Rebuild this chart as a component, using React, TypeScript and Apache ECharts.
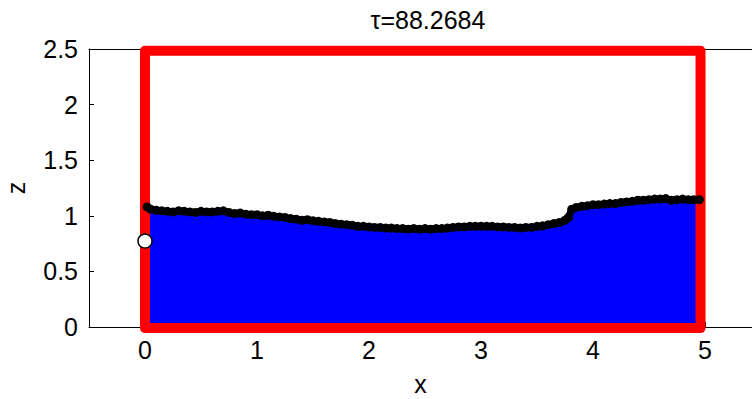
import React, { useEffect, useRef } from "react";
import * as echarts from "echarts";

const surfX = [0.02, 0.05, 0.1, 0.15, 0.2, 0.25, 0.3, 0.35, 0.4, 0.45, 0.5, 0.55, 0.6, 0.65, 0.7, 0.75, 0.8, 0.85, 0.9, 0.95, 1.0, 1.05, 1.1, 1.15, 1.2, 1.25, 1.3, 1.35, 1.4, 1.45, 1.5, 1.55, 1.6, 1.65, 1.7, 1.75, 1.8, 1.85, 1.9, 1.95, 2.0, 2.05, 2.1, 2.15, 2.2, 2.25, 2.3, 2.35, 2.4, 2.45, 2.5, 2.55, 2.6, 2.65, 2.7, 2.75, 2.8, 2.85, 2.9, 2.95, 3.0, 3.05, 3.1, 3.15, 3.2, 3.25, 3.3, 3.35, 3.4, 3.45, 3.5, 3.55, 3.6, 3.65, 3.7, 3.75, 3.78, 3.81, 3.85, 3.9, 3.95, 4.0, 4.05, 4.1, 4.15, 4.2, 4.25, 4.3, 4.35, 4.4, 4.45, 4.5, 4.55, 4.6, 4.65, 4.7, 4.75, 4.8, 4.85, 4.9, 4.95];
const surfZ = [1.08, 1.06, 1.05, 1.045, 1.04, 1.035, 1.045, 1.04, 1.035, 1.03, 1.04, 1.035, 1.035, 1.04, 1.045, 1.03, 1.02, 1.025, 1.015, 1.01, 1.01, 1.0, 1.005, 0.995, 0.99, 0.985, 0.975, 0.97, 0.96, 0.965, 0.955, 0.95, 0.945, 0.94, 0.93, 0.925, 0.92, 0.915, 0.905, 0.905, 0.9, 0.895, 0.895, 0.89, 0.89, 0.885, 0.885, 0.88, 0.885, 0.88, 0.885, 0.88, 0.885, 0.885, 0.89, 0.895, 0.9, 0.9, 0.905, 0.905, 0.905, 0.905, 0.905, 0.9, 0.9, 0.895, 0.895, 0.89, 0.895, 0.895, 0.905, 0.91, 0.92, 0.93, 0.94, 0.96, 0.985, 1.06, 1.075, 1.085, 1.09, 1.1, 1.1, 1.105, 1.11, 1.11, 1.12, 1.125, 1.13, 1.14, 1.14, 1.145, 1.15, 1.15, 1.155, 1.14, 1.145, 1.15, 1.145, 1.145, 1.145];

const wallX = [0, 0, 4.96, 4.96, 0];
const wallZ = [2.485, -0.01, -0.01, 2.485, 2.485];

const probeX = [0];
const probeZ = [0.773];

const xTicks = [0, 1, 2, 3, 4, 5];
const titleText = "\u03c4=88.2684";

const FONT = "'Liberation Sans', Arial, Helvetica, sans-serif";

export default function App() {
  const ref = useRef<HTMLDivElement>(null);
  useEffect(() => {
    if (!ref.current) return;
    const chart = echarts.init(ref.current, null, { renderer: "svg" });
    const surf = surfX.map((x, i) => [x, surfZ[i]]);
    const fill = [[0.03, surfZ[0]], ...surf.slice(1)];
    // visible part of an axis that runs from -0.5 to 5.5 over 672 px, cut at the window edge
    const xMaxVisible = -0.5 + (752 - 89) / 112;
    chart.setOption({
      animation: false,
      backgroundColor: "#fff",
      title: {
        text: titleText,
        left: 423,
        top: 2,
        textAlign: "center",
        textStyle: { fontFamily: FONT, fontSize: 25, fontWeight: "normal", color: "#000" },
      },
      grid: {
        left: 89,
        top: 49,
        right: 0,
        bottom: 72,
        show: false,
        containLabel: false,
        outerBoundsMode: "none",
      },
      xAxis: [
        {
          type: "value",
          min: -0.5,
          max: xMaxVisible,
          name: "x",
          nameLocation: "middle",
          nameGap: 44,
          nameTextStyle: { fontFamily: FONT, fontSize: 25, color: "#000" },
          axisLine: { show: true, onZero: false, lineStyle: { color: "#000", width: 1 } },
          axisTick: { show: true, inside: true, length: 5, customValues: xTicks, lineStyle: { color: "#000" } },
          axisLabel: { customValues: xTicks, fontFamily: FONT, fontSize: 25, color: "#000", margin: 10 },
          splitLine: { show: false },
        },
        {
          type: "value",
          position: "top",
          min: -0.5,
          max: xMaxVisible,
          axisLine: { show: true, onZero: false, lineStyle: { color: "#000", width: 1 } },
          axisTick: { show: false },
          axisLabel: { show: false },
          splitLine: { show: false },
        },
      ],
      yAxis: {
        type: "value",
        min: 0,
        max: 2.5,
        interval: 0.5,
        name: "z",
        nameLocation: "middle",
        nameGap: 61,
        nameTextStyle: { fontFamily: FONT, fontSize: 25, color: "#000" },
        axisLine: { show: true, onZero: false, lineStyle: { color: "#000", width: 1 } },
        axisTick: { show: true, inside: true, length: 5, lineStyle: { color: "#000" } },
        axisLabel: { fontFamily: FONT, fontSize: 25, color: "#000", margin: 11 },
        splitLine: { show: false },
      },
      series: [
        {
          type: "line",
          data: fill,
          symbol: "none",
          lineStyle: { width: 0 },
          areaStyle: { color: "#0000ff", opacity: 1, origin: 0 },
          z: 1,
          silent: true,
        },
        {
          type: "line",
          data: wallX.map((x, i) => [x, wallZ[i]]),
          symbol: "none",
          clip: false,
          lineStyle: { color: "#ff0000", width: 10, cap: "round", join: "round" },
          z: 2,
          silent: true,
        },
        {
          type: "line",
          data: surf,
          symbol: "circle",
          symbolSize: 9,
          clip: false,
          itemStyle: { color: "#000", opacity: 1 },
          lineStyle: { color: "#000", width: 7 },
          z: 3,
          silent: true,
        },
        {
          type: "scatter",
          data: probeX.map((x, i) => [x, probeZ[i]]),
          symbol: "circle",
          symbolSize: 14,
          clip: false,
          itemStyle: { color: "#ffffff", opacity: 1, borderColor: "#000", borderWidth: 1.5 },
          z: 4,
          silent: true,
        },
      ],
    });
    return () => chart.dispose();
  }, []);
  return (
    <div
      ref={ref}
      style={{ position: "fixed", left: 0, top: 0, width: 752, height: 399, background: "#fff" }}
    />
  );
}
